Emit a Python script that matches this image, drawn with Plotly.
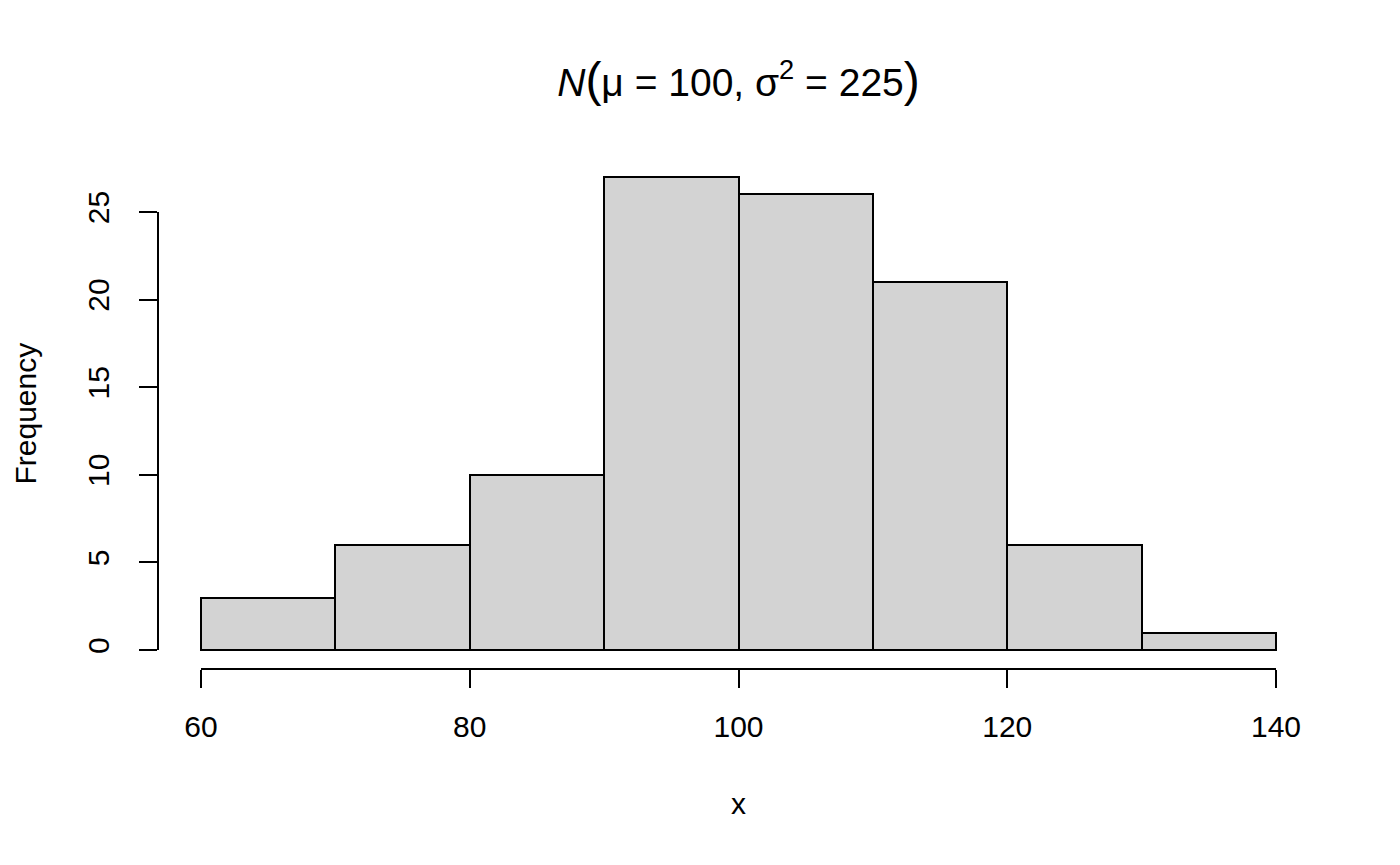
import plotly.graph_objects as go

# Data
bin_edges = [60, 70, 80, 90, 100, 110, 120, 130, 140]
counts = [3, 6, 10, 27, 26, 21, 6, 1]
x_ticks = [60, 80, 100, 120, 140]
y_ticks = [0, 5, 10, 15, 20, 25]

centers = [(a + b) / 2 for a, b in zip(bin_edges[:-1], bin_edges[1:])]
widths = [b - a for a, b in zip(bin_edges[:-1], bin_edges[1:])]

FONT = "Liberation Sans, Arial, Helvetica, sans-serif"
TICK_SIZE = 30

fig = go.Figure()
fig.add_trace(go.Bar(
    x=centers, y=counts, width=widths,
    marker=dict(color="#D3D3D3", line=dict(color="black", width=2)),
    hoverinfo="x+y",
))

xmin, xmax = bin_edges[0], bin_edges[-1]
xpad = (xmax - xmin) * 0.04
ymax = max(counts)
ypad = ymax * 0.04

# page is offset by the 8px body margin of the html page
L, R, T, B = 150, 89, 150, 204

fig.update_layout(
    width=1400, height=865,
    margin=dict(l=L, r=R, t=T, b=B),
    paper_bgcolor="white", plot_bgcolor="white",
    showlegend=False, bargap=0,
    font=dict(family=FONT, size=TICK_SIZE, color="black"),
    xaxis=dict(range=[xmin - xpad, xmax + xpad], tickvals=x_ticks,
               ticks="outside", ticklen=18, tickwidth=2, tickcolor="black",
               showgrid=False, zeroline=False, showline=False,
               tickfont=dict(size=TICK_SIZE), ticklabelstandoff=13),
    yaxis=dict(range=[-ypad, ymax + ypad], tickvals=y_ticks,
               ticks="outside", ticklen=18, tickwidth=2, tickcolor="black",
               showgrid=False, zeroline=False, showline=False,
               tickangle=-90, tickfont=dict(size=TICK_SIZE), ticklabelstandoff=18),
    title=dict(
        text=("<i>N</i><span style='font-size:48px'>(</span>μ = 100, "
              "σ<sup>2</sup> = 225<span style='font-size:48px'>)</span>"),
        x=(L + 1400 - R) / 2 / 1400, xanchor="center",
        y=1 - 74 / 865, yanchor="middle", yref="container",
        font=dict(family=FONT, size=39, color="black"),
    ),
    shapes=[
        dict(type="line", xref="x", yref="paper", x0=xmin, x1=xmax, y0=0, y1=0,
             line=dict(color="black", width=2)),
        dict(type="line", xref="paper", yref="y", x0=0, x1=0, y0=y_ticks[0], y1=y_ticks[-1],
             line=dict(color="black", width=2)),
    ],
    annotations=[
        dict(text="x", xref="paper", yref="paper", x=0.5, y=0, yshift=-134,
             xanchor="center", yanchor="middle", showarrow=False,
             font=dict(family=FONT, size=TICK_SIZE)),
        dict(text="Frequency", xref="paper", yref="paper", x=0, y=0.5, xshift=-133,
             xanchor="center", yanchor="middle", showarrow=False, textangle=-90,
             font=dict(family=FONT, size=TICK_SIZE)),
    ],
)

fig.write_html("out.html")
